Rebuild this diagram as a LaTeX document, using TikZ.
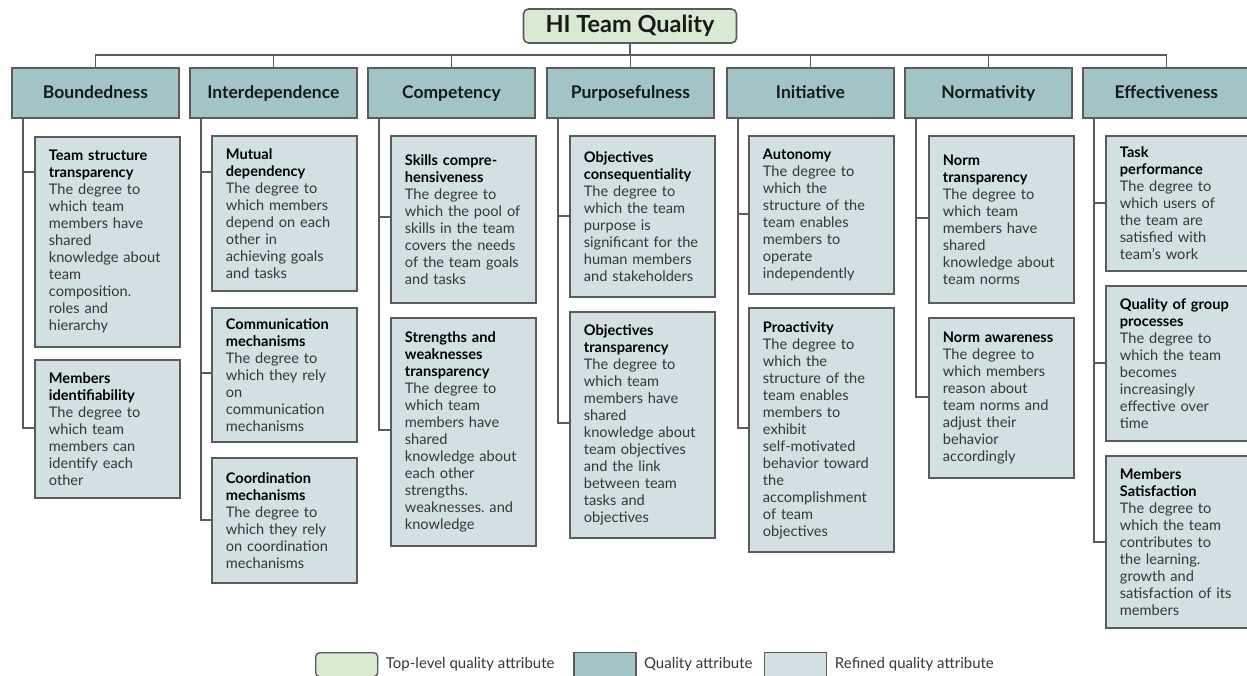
\documentclass[tikz,border=0pt]{standalone}
\usepackage{fontspec}
\setmainfont{Lato}
\usepackage{tikz}
\usetikzlibrary{positioning,calc}
\frenchspacing

\definecolor{topgreen}{HTML}{D9EAD3}
\definecolor{qablue}{HTML}{A2C4C9}
\definecolor{refblue}{HTML}{D0E0E3}
\definecolor{edgegray}{HTML}{5B5B5B}
\definecolor{descgray}{HTML}{363636}
\newcommand{\attrname}[1]{{\color{black}\bfseries #1}}

\begin{document}
\begin{tikzpicture}[x=1pt, y=-1pt,
	every node/.style={font=\fontsize{14.6}{17}\selectfont},
	hibox/.style={draw=edgegray, line width=1.6pt, fill=topgreen, rounded corners=5pt, minimum width=213pt, minimum height=34pt, text height=17pt, text depth=4pt, font=\fontsize{23.5}{26}\selectfont\bfseries, text=black!90},
	quality/.style={draw=edgegray, line width=1.8pt, fill=qablue, anchor=north west, minimum width=167pt, minimum height=50pt, text height=12.5pt, text depth=0.5pt, font=\fontsize{17.5}{20}\selectfont\bfseries, text=black!90},
	refined/.style={draw=edgegray, line width=1.8pt, fill=refblue, anchor=north west, text width=117pt, inner xsep=14pt, align=left, text=descgray},
	link/.style={draw=edgegray, line width=1.6pt},
	legbox/.style={draw=edgegray, line width=1.4pt, anchor=north west, minimum width=62pt, minimum height=24pt},
	legtext/.style={text=descgray, font=\fontsize{15}{17}\selectfont}]
	\useasboundingbox (0,0) rectangle (1247,675);

	\node[hibox] (hi) at (630,26) {HI Team Quality};
	\coordinate (bus) at (630,55);

	\node[quality] (B) at (11,67) {Boundedness};
	\node[quality] (I) at (189,67) {Interdependence};
	\node[quality] (C) at (367,67) {Competency};
	\node[quality] (P) at (546,67) {Purposefulness};
	\node[quality] (N) at (726,67) {Initiative};
	\node[quality] (M) at (904,67) {Normativity};
	\node[quality] (E) at (1082,67) {Effectiveness};

	\draw[link] (hi) -- (bus);
	\draw[link] (B) |- (bus);
	\draw[link] (I) |- (bus);
	\draw[link] (C) |- (bus);
	\draw[link] (P) |- (bus);
	\draw[link] (N) |- (bus);
	\draw[link] (M) |- (bus);
	\draw[link] (E) |- (bus);

	% Boundedness
	\node[refined, minimum height=210pt] (B1) at (34,136) {\attrname{Team structure\\transparency}\\The degree to\\which team\\members have\\shared\\knowledge about\\team\\composition.\\roles and\\hierarchy};
	\node[refined, minimum height=138pt] (B2) at (34,359) {\attrname{Members\\identifiability}\\The degree to\\which team\\members can\\identify each\\other};
	\draw[link] (B.south west) ++(12,0) |- ($(B1.north west)+(0,36)$);
	\draw[link] (B.south west) ++(12,0) |- ($(B2.north west)+(0,69)$);

	% Interdependence
	\node[refined, minimum height=155pt] (I1) at (211,135) {\attrname{Mutual\\dependency}\\The degree to\\which members\\depend on each\\other in\\achieving goals\\and tasks};
	\node[refined, minimum height=134pt] (I2) at (211,307) {\attrname{Communication\\mechanisms}\\The degree to\\which they rely\\on\\communication\\mechanisms};
	\node[refined, minimum height=125pt] (I3) at (211,457) {\attrname{Coordination\\mechanisms}\\The degree to\\which they rely\\on coordination\\mechanisms};
	\draw[link] (I.south west) ++(12,0) |- ($(I1.north west)+(0,37)$);
	\draw[link] (I.south west) ++(12,0) |- ($(I2.north west)+(0,66)$);
	\draw[link] (I.south west) ++(12,0) |- ($(I3.north west)+(0,63)$);

	% Competency
	\node[refined, minimum height=167pt] (C1) at (390,135) {\attrname{Skills compre-\\hensiveness}\\The degree to\\which the pool of\\skills in the team\\covers the needs\\of the team goals\\and tasks};
	\node[refined, minimum height=228pt] (C2) at (390,317) {\attrname{Strengths and\\weaknesses\\transparency}\\The degree to\\which team\\members have\\shared\\knowledge about\\each other\\strengths.\\weaknesses. and\\knowledge};
	\draw[link] (C.south west) ++(12,0) |- ($(C1.north west)+(0,82)$);
	\draw[link] (C.south west) ++(12,0) |- ($(C2.north west)+(0,113)$);

	% Purposefulness
	\node[refined, minimum height=161pt] (P1) at (569,135) {\attrname{Objectives\\consequentiality}\\The degree to\\which the team\\purpose is\\significant for the\\human members\\and stakeholders};
	\node[refined, minimum height=226pt] (P2) at (569,311) {\attrname{Objectives\\transparency}\\The degree to\\which team\\members have\\shared\\knowledge about\\team objectives\\and the link\\between team\\tasks and\\objectives};
	\draw[link] (P.south west) ++(12,0) |- ($(P1.north west)+(0,81)$);
	\draw[link] (P.south west) ++(12,0) |- ($(P2.north west)+(0,112)$);

	% Initiative
	\node[refined, minimum height=158pt] (N1) at (748,135) {\attrname{Autonomy}\\The degree to\\which the\\structure of the\\team enables\\members to\\operate\\independently};
	\node[refined, minimum height=244pt] (N2) at (748,307) {\attrname{Proactivity}\\The degree to\\which the\\structure of the\\team enables\\members to\\exhibit\\self-motivated\\behavior toward\\the\\accomplishment\\of team\\objectives};
	\draw[link] (N.south west) ++(12,0) |- ($(N1.north west)+(0,79)$);
	\draw[link] (N.south west) ++(12,0) |- ($(N2.north west)+(0,121)$);

	% Normativity
	\node[refined, minimum height=167pt] (M1) at (928,135) {\attrname{Norm\\transparency}\\The degree to\\which team\\members have\\shared\\knowledge about\\team norms};
	\node[refined, minimum height=160pt] (M2) at (928,317) {\attrname{Norm awareness}\\The degree to\\which members\\reason about\\team norms and\\adjust their\\behavior\\accordingly};
	\draw[link] (M.south west) ++(12,0) |- ($(M1.north west)+(0,83)$);
	\draw[link] (M.south west) ++(12,0) |- ($(M2.north west)+(0,80)$);

	% Effectiveness
	\node[refined, minimum height=135pt] (E1) at (1105,135) {\attrname{Task\\performance}\\The degree to\\which users of\\the team are\\satisfied with\\team's work};
	\node[refined, minimum height=155pt] (E2) at (1105,285) {\attrname{Quality of group\\processes}\\The degree to\\which the team\\becomes\\increasingly\\effective over\\time};
	\node[refined, minimum height=172pt] (E3) at (1105,455) {\attrname{Members\\Satisfaction}\\The degree to\\which the team\\contributes to\\the learning.\\growth and\\satisfaction of its\\members};
	\draw[link] (E.south west) ++(12,0) |- ($(E1.north west)+(0,68)$);
	\draw[link] (E.south west) ++(12,0) |- ($(E2.north west)+(0,78)$);
	\draw[link] (E.south west) ++(12,0) |- ($(E3.north west)+(0,87)$);

	% legend
	\node[legbox, fill=topgreen, rounded corners=4pt] (lg1) at (315,652) {};
	\node[legtext, right=4pt of lg1] (lt1) {Top-level quality attribute};
	\node[legbox, fill=qablue, right=15pt of lt1] (lg2) {};
	\node[legtext, right=4pt of lg2] (lt2) {Quality attribute};
	\node[legbox, fill=refblue, right=8pt of lt2] (lg3) {};
	\node[legtext, right=4pt of lg3] (lt3) {Refined quality attribute};
\end{tikzpicture}
\end{document}
